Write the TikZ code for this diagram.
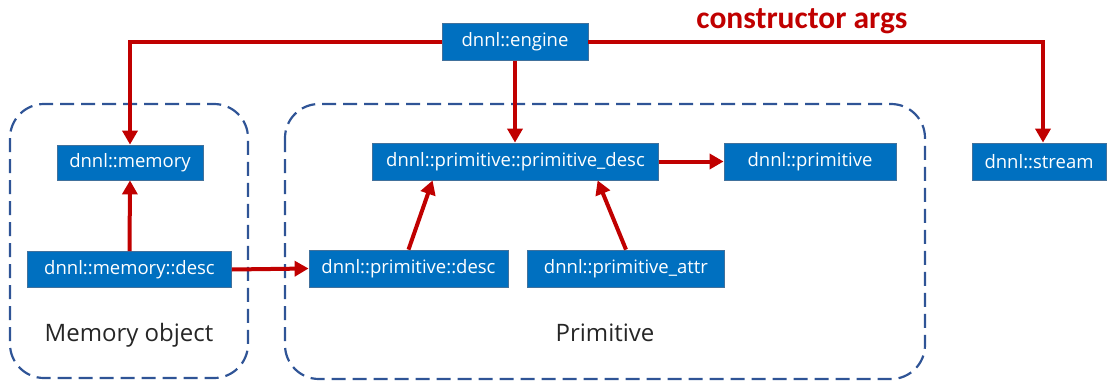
\documentclass[tikz,border=0pt]{standalone}
\usepackage{fontspec}
\setmainfont{Open Sans}
\newfontfamily\capfont{Carlito}
\usetikzlibrary{arrows.meta}
\definecolor{boxblue}{RGB}{0,112,192}
\definecolor{boxedge}{RGB}{65,113,156}
\definecolor{argred}{RGB}{192,0,0}
\definecolor{framecol}{RGB}{47,84,150}
\begin{document}
\begin{tikzpicture}[x=1pt,y=-1pt,
  classbox/.style={draw=boxedge, line width=0.8pt, fill=boxblue, text=white,
    inner sep=0pt, minimum height=37pt, font=\fontsize{18.5}{21}\selectfont},
  flow/.style={draw=argred, line width=4pt, -{Triangle[length=14pt,width=15pt]}},
  group/.style={draw=framecol, line width=2.2pt, dash pattern=on 14pt off 7pt, rounded corners=34pt},
  grouplabel/.style={font=\fontsize{24}{28}\selectfont, text=black!85, anchor=base}]
\useasboundingbox (0,0) rectangle (1109,383);

% dashed groupings
\draw[group] (10,104) rectangle (248,378);
\draw[group] (285,104) rectangle (925,379);
\node[grouplabel] (memlabel) at (129,341) {Memory object};
\node[grouplabel] (primlabel) at (605,341) {Primitive};

% classes
\node[classbox, minimum width=146pt] (engine) at (515,42) {dnnl::engine};
\node[classbox, minimum width=146pt, minimum height=35pt] (memory) at (130,162.5) {dnnl::memory};
\node[classbox, minimum width=204pt, minimum height=36pt] (mdesc) at (129.5,269.5) {dnnl::memory::desc};
\node[classbox, minimum width=286pt] (pdesc) at (515.5,161.5) {dnnl::primitive::primitive\_desc};
\node[classbox, minimum width=172pt] (prim) at (810,161.5) {dnnl::primitive};
\node[classbox, minimum width=199pt] (opdesc) at (408.5,268.5) {dnnl::primitive::desc};
\node[classbox, minimum width=197pt] (attr) at (626,268.5) {dnnl::primitive\_attr};
\node[classbox, minimum width=134pt] (stream) at (1039,161.5) {dnnl::stream};

\node[font=\capfont\bfseries\fontsize{31.5}{36}\selectfont, text=argred, anchor=base] (args) at (802,28) {constructor args};

% constructor-argument flow
\coordinate (turnL) at (130,42);
\coordinate (turnR) at (1043,42);
\draw[flow] (engine.west) -- (turnL) -- (memory.north);
\draw[flow] (engine.east) -- (turnR) -- (turnR |- stream.north);
\draw[flow] (engine.south) -- (engine.south |- pdesc.north);
\draw[flow] (mdesc.north) -- (memory.south);
\draw[flow] (mdesc.east) -- (opdesc.west);
\draw[flow] (opdesc.north) -- ([xshift=60.5pt]pdesc.south west);
\draw[flow] (attr.north) -- ([xshift=225.5pt]pdesc.south west);
\draw[flow] (pdesc.east) -- (prim.west);
\end{tikzpicture}
\end{document}
